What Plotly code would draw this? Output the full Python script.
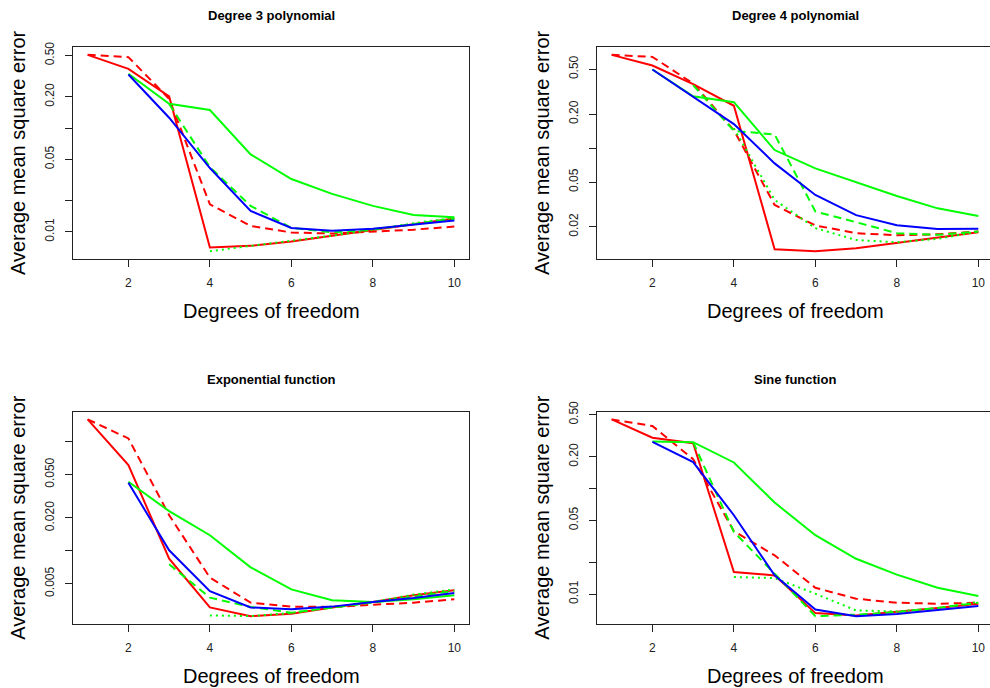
import math
import plotly.graph_objects as go

# Degrees of freedom on the x axis
dof = [1, 2, 3, 4, 5, 6, 7, 8, 9, 10]

panel_titles = ["Degree 3 polynomial", "Degree 4 polynomial",
                "Exponential function", "Sine function"]

# Average mean square error per panel and method (None = not computed)
poly3_red_solid = [0.507, 0.372, 0.2016, 0.00706, 0.00733, 0.00807, 0.00916, 0.01038, 0.01186, 0.01343]
poly3_red_dash = [0.507, 0.482, 0.191, 0.0184, 0.0114, 0.00986, 0.00964, 0.0100, 0.0105, 0.01124]
poly3_green_solid = [None, 0.333, 0.171, 0.149, 0.0558, 0.0323, 0.0232, 0.0178, 0.01456, 0.01383]
poly3_green_dash = [None, None, 0.171, 0.0420, 0.0178, 0.01092, 0.0099, 0.0105, 0.0119, 0.0134]
poly3_green_dot = [None, None, None, 0.00652, 0.0073, 0.0081, 0.0092, 0.0105, 0.0121, 0.0137]
poly3_blue = [None, 0.328, 0.1257, 0.0412, 0.0159, 0.01092, 0.01023, 0.0107, 0.01177, 0.01285]

poly4_red_solid = [0.670, 0.539, 0.368, 0.237, 0.01268, 0.01219, 0.01294, 0.01443, 0.0160, 0.01795]
poly4_red_dash = [0.670, 0.643, 0.373, 0.144, 0.0313, 0.0206, 0.0176, 0.01686, 0.0172, 0.0182]
poly4_green_solid = [None, 0.497, 0.288, 0.255, 0.096, 0.066, 0.0497, 0.0376, 0.0292, 0.025]
poly4_green_dash = [None, None, 0.361, 0.142, 0.132, 0.0274, 0.0220, 0.0176, 0.0170, 0.0182]
poly4_green_dot = [None, None, None, 0.150, 0.0347, 0.0195, 0.0153, 0.0146, 0.01567, 0.0182]
poly4_blue = [None, 0.497, 0.284, 0.163, 0.0731, 0.0384, 0.0254, 0.0207, 0.0192, 0.0193]

exp_red_solid = [0.160, 0.061, 0.00848, 0.00303, 0.00252, 0.00265, 0.00303, 0.0034, 0.00391, 0.00435]
exp_red_dash = [0.160, 0.107, 0.0212, 0.00568, 0.00335, 0.00308, 0.00306, 0.00321, 0.00335, 0.00359]
exp_green_solid = [None, 0.0429, 0.0231, 0.01388, 0.00706, 0.00443, 0.00352, 0.0034, 0.00359, 0.00391]
exp_green_dash = [None, None, 0.00752, 0.00372, 0.00306, 0.00271, 0.00302, 0.00335, 0.0038, 0.00429]
exp_green_dot = [None, None, None, 0.00256, 0.00252, 0.0027, 0.00303, 0.0034, 0.00397, 0.00443]
exp_blue = [None, 0.042, 0.0101, 0.00426, 0.00303, 0.00291, 0.00308, 0.0034, 0.00369, 0.0041]

sine_red_solid = [0.452, 0.303, 0.269, 0.0162, 0.01503, 0.0066, 0.00627, 0.00674, 0.00736, 0.0081]
sine_red_dash = [0.452, 0.391, 0.190, 0.0394, 0.0233, 0.01148, 0.00904, 0.00828, 0.0081, 0.00828]
sine_green_solid = [None, 0.279, 0.275, 0.1766, 0.0736, 0.0361, 0.0216, 0.01527, 0.01148, 0.00957]
sine_green_dash = [None, None, 0.275, 0.0388, 0.0156, 0.00618, 0.00637, 0.00674, 0.0074, 0.00828]
sine_green_dot = [None, None, None, 0.01449, 0.01418, 0.01008, 0.0070, 0.00684, 0.00736, 0.0084]
sine_blue = [None, 0.277, 0.178, 0.0558, 0.01503, 0.00714, 0.00618, 0.00646, 0.0070, 0.00769]

x_tick_vals = [2, 4, 6, 8, 10]
y_tick_vals = [
    [0.01, 0.02, 0.05, 0.1, 0.2, 0.5],
    [0.02, 0.05, 0.1, 0.2, 0.5],
    [0.005, 0.01, 0.02, 0.05, 0.1],
    [0.01, 0.02, 0.05, 0.1, 0.2, 0.5],
]
y_tick_text = [
    ["0.01", "", "0.05", "", "0.20", "0.50"],
    ["0.02", "0.05", "", "0.20", "0.50"],
    ["0.005", "", "0.020", "0.050", ""],
    ["0.01", "", "0.05", "", "0.20", "0.50"],
]

panels = [
    [poly3_red_solid, poly3_red_dash, poly3_green_solid, poly3_green_dash, poly3_green_dot, poly3_blue],
    [poly4_red_solid, poly4_red_dash, poly4_green_solid, poly4_green_dash, poly4_green_dot, poly4_blue],
    [exp_red_solid, exp_red_dash, exp_green_solid, exp_green_dash, exp_green_dot, exp_blue],
    [sine_red_solid, sine_red_dash, sine_green_solid, sine_green_dash, sine_green_dot, sine_blue],
]

styles = [
    ("#FF0000", "solid"),
    ("#FF0000", "8px,5px"),
    ("#00FF00", "solid"),
    ("#00FF00", "8px,5px"),
    ("#00FF00", "2px,4px"),
    ("#0000FF", "solid"),
]

W, H = 990, 688
# pixel boxes of the four plot regions: (left, right, top, bottom)
boxes = [
    (73, 469, 47, 259),
    (597, 990, 47, 259),
    (73, 469, 411.5, 624),
    (597, 990, 411.5, 624),
]
FONT = "Liberation Sans, Arial, Helvetica, sans-serif"

fig = go.Figure()
annotations = []

for i, series in enumerate(panels):
    n = "" if i == 0 else str(i + 1)
    for vals, (col, dash) in zip(series, styles):
        fig.add_trace(go.Scatter(
            x=dof, y=vals, mode="lines",
            line=dict(color=col, width=2, dash=dash),
            xaxis="x" + n, yaxis="y" + n, showlegend=False,
            hoverinfo="skip"))

    left, right, top, bottom = boxes[i]
    # x range: 4% padding on each side of 1..10 (R style)
    x_lo = 1 - 0.04 * 9
    px_per_unit = (469 - 73) / (9 * 1.08)
    x_hi = x_lo + (right - left) / px_per_unit

    all_vals = [v for s in series for v in s if v is not None]
    lo, hi = math.log10(min(all_vals)), math.log10(max(all_vals))
    pad = 0.04 * (hi - lo)

    fig.layout["xaxis" + n] = dict(
        domain=[left / W, right / W], range=[x_lo, x_hi], automargin=False,
        anchor="y" + n, tickvals=x_tick_vals, ticktext=[str(v) for v in x_tick_vals],
        ticks="outside", ticklen=7, tickwidth=1, tickcolor="#222",
        showline=True, linecolor="#222", linewidth=1, mirror=True,
        showgrid=False, zeroline=False,
        tickfont=dict(family=FONT, size=12, color="#222"),
        ticklabelstandoff=6)
    fig.layout["yaxis" + n] = dict(
        domain=[1 - bottom / H, 1 - top / H], type="log", automargin=False,
        range=[lo - pad, hi + pad], anchor="x" + n,
        tickvals=y_tick_vals[i], ticktext=y_tick_text[i],
        ticks="outside", ticklen=7, tickwidth=1, tickcolor="#222",
        showline=True, linecolor="#222", linewidth=1, mirror=True,
        showgrid=False, zeroline=False, tickangle=-90,
        tickfont=dict(family=FONT, size=12, color="#222"),
        ticklabelstandoff=6)

    cx = (left + (left + 9.72 * px_per_unit)) / 2
    cy = (top + bottom) / 2
    annotations.append(dict(
        text="<b>" + panel_titles[i] + "</b>", x=cx / W, y=1 - (top - 32) / H,
        xref="paper", yref="paper", showarrow=False, xanchor="center", yanchor="middle",
        font=dict(family=FONT, size=13, color="#000")))
    annotations.append(dict(
        text="Degrees of freedom", x=cx / W, y=1 - (bottom + 52) / H,
        xref="paper", yref="paper", showarrow=False, xanchor="center", yanchor="middle",
        font=dict(family=FONT, size=20, color="#000")))
    annotations.append(dict(
        text="Average mean square error", x=(left - 55) / W, y=1 - cy / H,
        xref="paper", yref="paper", showarrow=False, xanchor="center", yanchor="middle",
        textangle=-90, font=dict(family=FONT, size=20, color="#000")))

fig.update_layout(
    width=W, height=H, margin=dict(l=0, r=0, t=0, b=0, autoexpand=False),
    paper_bgcolor="white", plot_bgcolor="white",
    annotations=annotations)

fig.write_html("out.html")
